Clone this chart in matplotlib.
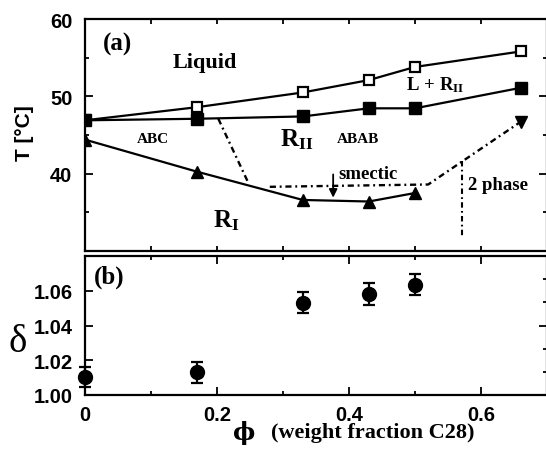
import matplotlib
matplotlib.use("Agg")
import matplotlib.pyplot as plt
from matplotlib.ticker import MultipleLocator, FixedLocator

plt.rcParams['mathtext.fontset'] = 'custom'
plt.rcParams['mathtext.rm'] = 'Liberation Serif'
plt.rcParams['mathtext.bf'] = 'Liberation Serif:bold'
plt.rcParams['mathtext.it'] = 'Liberation Serif:italic'

# ---------------- data ----------------
phi = [0.0, 0.17, 0.33, 0.43, 0.50, 0.66]
T_liquidus = [46.9, 48.6, 50.5, 52.1, 53.8, 55.8]      # open squares
T_rII = [46.9, 47.1, 47.4, 48.45, 48.45, 51.1]          # filled squares
phi_rI = [0.0, 0.17, 0.33, 0.43, 0.50]
T_rI = [44.4, 40.25, 36.6, 36.4, 37.5]                  # filled triangles

# dash-dot phase boundaries
bnd1_x = [0.202, 0.247]
bnd1_y = [47.1, 38.9]
bnd2_x = [0.28, 0.52, 0.66]
bnd2_y = [38.3, 38.6, 46.7]
bnd3_x = [0.571, 0.571]
bnd3_y = [41.6, 32.0]

phi_b = [0.0, 0.17, 0.33, 0.43, 0.50]
delta = [1.0105, 1.0130, 1.0530, 1.0580, 1.0635]
delta_err = [0.0058, 0.0062, 0.0060, 0.0062, 0.0060]

xticks_b = [0, 0.2, 0.4, 0.6]
xticklabels_b = ['0', '0.2', '0.4', '0.6']
yticks_a = [40, 50, 60]
yticks_b = [1.00, 1.02, 1.04, 1.06]
yticklabels_b = ['1.00', '1.02', '1.04', '1.06']

W, H = 546, 452
fig = plt.figure(figsize=(W / 100, H / 100), dpi=100)
ax1 = fig.add_axes([85 / W, 1 - 252 / H, 462 / W, 232 / H])
ax2 = fig.add_axes([85 / W, 1 - 396 / H, 462 / W, 139 / H])

tickfont = dict(family='Liberation Sans', weight='bold', size=14.5)
serifb = dict(family='Liberation Serif', weight='bold')

for ax in (ax1, ax2):
    for s in ax.spines.values():
        s.set_linewidth(1.6)
    ax.tick_params(which='both', direction='in', top=True, right=True, width=1.3)
    ax.tick_params(which='major', length=5.5)
    ax.tick_params(which='minor', length=3)

# ---------------- panel (a) ----------------
lw = 1.6
ax1.plot(phi, T_liquidus, '-', color='black', lw=lw, marker='s', ms=7.5,
         mfc='white', mec='black', mew=1.6, zorder=3)
ax1.plot(phi, T_rII, '-', color='black', lw=lw, marker='s', ms=8,
         mfc='black', mec='black', zorder=3)
ax1.plot(phi_rI, T_rI, '-', color='black', lw=lw, marker='^', ms=9,
         mfc='black', mec='black', zorder=3)
dd = (0, (2.6, 1.6, 0.8, 1.6))
ax1.plot(bnd1_x, bnd1_y, color='black', lw=1.7, linestyle=dd)
ax1.plot(bnd2_x, bnd2_y, color='black', lw=1.7, linestyle=dd)
ax1.plot(bnd2_x[-1:], bnd2_y[-1:], 'v', color='black', ms=9)
ax1.plot(bnd3_x, bnd3_y, color='black', lw=1.5, linestyle=dd)

ax1.set_xlim(0, 0.7)
ax1.set_ylim(30, 60)
ax1.xaxis.set_major_locator(MultipleLocator(0.1))
ax1.set_xticklabels([])
ax1.tick_params(axis='x', which='major', length=3.5)
ax1.yaxis.set_minor_locator(MultipleLocator(5))
ax1.set_yticks(yticks_a)
ax1.set_yticklabels([str(v) for v in yticks_a], fontdict=tickfont)
ax1.tick_params(axis='y', pad=9)

ax1.annotate('', xy=(0.376, 36.9), xytext=(0.376, 39.9),
             arrowprops=dict(arrowstyle='-|>', color='black', lw=1.3,
                             mutation_scale=12, shrinkA=0, shrinkB=0))

ax1.text(0.05, 56.8, '(a)', ha='center', va='center', size=18, **serifb)
ax1.text(0.181, 54.4, 'Liquid', ha='center', va='center', size=16, **serifb)
ax1.text(0.103, 44.5, 'ABC', ha='center', va='center', size=11, **serifb)
ax1.text(0.32, 44.5, r'$\mathbf{R_{II}}$', ha='center', va='center', size=18)
ax1.text(0.413, 44.6, 'ABAB', ha='center', va='center', size=11, **serifb)
ax1.text(0.530, 51.6, r'$\mathbf{L\,+\,R_{II}}$', ha='center', va='center', size=13.5)
ax1.text(0.3835, 40.0, 'smectic', ha='left', va='center', size=13.5, **serifb)
ax1.text(0.581, 38.65, '2 phase', ha='left', va='center', size=13.5, **serifb)
ax1.text(0.2136, 34.1, r'$\mathbf{R_{I}}$', ha='center', va='center', size=18)

# ---------------- panel (b) ----------------
ax2.errorbar(phi_b, delta, yerr=delta_err, fmt='o', color='black', ms=10,
             elinewidth=1.6, capsize=4, capthick=1.6, clip_on=False, zorder=3)
ax2.set_xlim(0, 0.7)
ax2.set_ylim(1.0, 1.08)
ax2.set_xticks(xticks_b)
ax2.set_xticklabels(xticklabels_b, fontdict=tickfont)
ax2.xaxis.set_minor_locator(MultipleLocator(0.1))
ax2.tick_params(axis='x', pad=7)
ax2.set_yticks(yticks_b)
ax2.set_yticklabels(yticklabels_b, fontdict=tickfont)
ax2.tick_params(axis='y', pad=9, right=False, which='both')
ax2r = ax2.twinx()
ax2r.set_ylim(1.0, 1.08)
ax2r.set_yticks([1.04])
ax2r.set_yticks([1.0133, 1.0267, 1.0533, 1.0667], minor=True)
ax2r.set_yticklabels([])
ax2r.tick_params(which='both', direction='in', width=1.3)
ax2r.tick_params(which='major', length=5.5)
ax2r.tick_params(which='minor', length=3)
for s in ax2r.spines.values():
    s.set_visible(False)
ax2.text(0.037, 1.0685, '(b)', ha='center', va='center', size=18, **serifb)

# axis labels
fig.text(25 / W, 1 - 133 / H, 'T [°C]', rotation=90, ha='center', va='center',
         family='Liberation Sans', weight='bold', size=15)
fig.text(18 / W, 1 - 343 / H, 'δ', ha='center', va='center',
         family='Liberation Serif', size=28)
fig.text(244 / W, 1 - 433 / H, 'ϕ', ha='center', va='center',
         family='DejaVu Serif', weight='bold', size=17)
fig.text(271 / W, 1 - 433 / H, '(weight fraction C28)', ha='left', va='center',
         size=16, **serifb)

fig.savefig('out.png', dpi=100)
